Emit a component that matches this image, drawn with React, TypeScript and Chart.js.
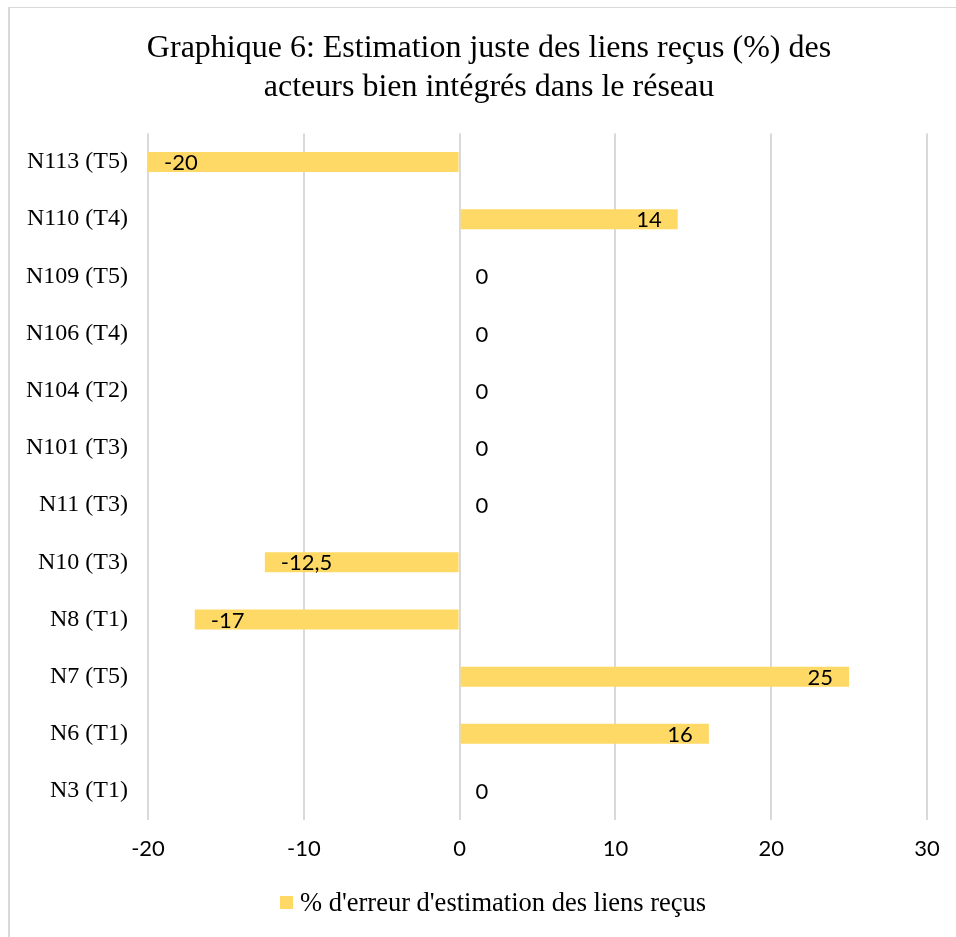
import React, { useEffect, useRef } from "react";
import { Chart, registerables } from "chart.js";

Chart.register(...registerables);

const titleLines = [
  "Graphique 6: Estimation juste des liens reçus (%) des",
  "acteurs bien intégrés dans le réseau",
];
const categories = [
  "N113 (T5)",
  "N110 (T4)",
  "N109 (T5)",
  "N106 (T4)",
  "N104 (T2)",
  "N101 (T3)",
  "N11 (T3)",
  "N10 (T3)",
  "N8 (T1)",
  "N7 (T5)",
  "N6 (T1)",
  "N3 (T1)",
];
const values = [-20, 14, 0, 0, 0, 0, 0, -12.5, -17, 25, 16, 0];
const seriesName = "% d'erreur d'estimation des liens reçus";
const xMin = -20;
const xMax = 30;
const xStep = 10;

const BAR = "#ffd966";
const GRID = "#d9d9d9";
const SERIF = "'Liberation Serif', 'Times New Roman', serif";
const SANS = "Lato, 'Open Sans', sans-serif";

const fmt = (v: number) => String(v).replace(".", ",");

const decorPlugin = {
  id: "decor",
  beforeDraw(chart: any) {
    const ctx = chart.ctx;
    ctx.save();
    ctx.fillStyle = "#ffffff";
    ctx.fillRect(0, 0, chart.width, chart.height);
    ctx.strokeStyle = GRID;
    ctx.lineWidth = 2;
    ctx.beginPath();
    ctx.moveTo(9, 7);
    ctx.lineTo(9, chart.height);
    ctx.stroke();
    ctx.lineWidth = 1;
    ctx.beginPath();
    ctx.moveTo(8, 7.5);
    ctx.lineTo(chart.width, 7.5);
    ctx.stroke();
    ctx.restore();
  },
  afterDraw(chart: any) {
    const ctx = chart.ctx;
    ctx.save();
    // title
    ctx.fillStyle = "#000000";
    ctx.font = `32px ${SERIF}`;
    ctx.textAlign = "center";
    ctx.textBaseline = "alphabetic";
    ctx.fillText(titleLines[0], 489, 57);
    ctx.fillText(titleLines[1], 489, 96);
    // legend
    ctx.fillStyle = BAR;
    ctx.fillRect(280, 896, 13, 13);
    ctx.fillStyle = "#000000";
    ctx.font = `26.5px ${SERIF}`;
    ctx.textAlign = "left";
    ctx.fillText(seriesName, 300, 911);
    ctx.restore();
  },
  afterDatasetsDraw(chart: any) {
    const ctx = chart.ctx;
    const meta = chart.getDatasetMeta(0);
    const data = chart.data.datasets[0].data as number[];
    ctx.save();
    ctx.fillStyle = "#000000";
    ctx.font = `22px ${SANS}`;
    ctx.textBaseline = "middle";
    meta.data.forEach((el: any, i: number) => {
      const v = data[i];
      const txt = fmt(v);
      if (v > 0) {
        ctx.textAlign = "right";
        ctx.fillText(txt, el.x - 16, el.y + 1);
      } else if (v < 0) {
        ctx.textAlign = "left";
        ctx.fillText(txt, el.x + 16, el.y + 1);
      } else {
        ctx.textAlign = "left";
        ctx.fillText(txt, el.base + 16, el.y + 1);
      }
    });
    ctx.restore();
  },
};

export default function App() {
  const ref = useRef<HTMLCanvasElement | null>(null);
  useEffect(() => {
    if (!ref.current) return;
    const chart = new Chart(ref.current, {
      type: "bar",
      data: {
        labels: categories,
        datasets: [
          {
            label: seriesName,
            data: values,
            backgroundColor: BAR,
            borderWidth: 0,
            barPercentage: 0.35,
            categoryPercentage: 1,
          },
        ],
      },
      options: {
        indexAxis: "y",
        animation: false,
        responsive: true,
        maintainAspectRatio: false,
        layout: { padding: { top: 133.4, right: 29, bottom: 77.4, left: 0 } },
        plugins: {
          legend: { display: false },
          title: { display: false },
          tooltip: { enabled: false },
        },
        scales: {
          x: {
            type: "linear",
            min: xMin,
            max: xMax,
            ticks: {
              stepSize: xStep,
              padding: 16,
              color: "#000000",
              font: { family: SANS, size: 22 },
              callback: (v: any) => String(v),
            },
            grid: { color: GRID, lineWidth: 2, drawTicks: false },
            border: { display: false },
            afterFit: (s: any) => {
              s.height = 40;
            },
          },
          y: {
            type: "category",
            ticks: {
              padding: 20,
              color: "#000000",
              font: { family: SERIF, size: 24 },
            },
            grid: { display: false, drawTicks: false },
            border: { display: false },
            afterFit: (s: any) => {
              s.width = 148;
            },
          },
        },
      },
      plugins: [decorPlugin],
    });
    return () => chart.destroy();
  }, []);
  return (
    <div style={{ position: "absolute", left: 0, top: 0, width: 956, height: 937 }}>
      <canvas ref={ref} />
    </div>
  );
}
